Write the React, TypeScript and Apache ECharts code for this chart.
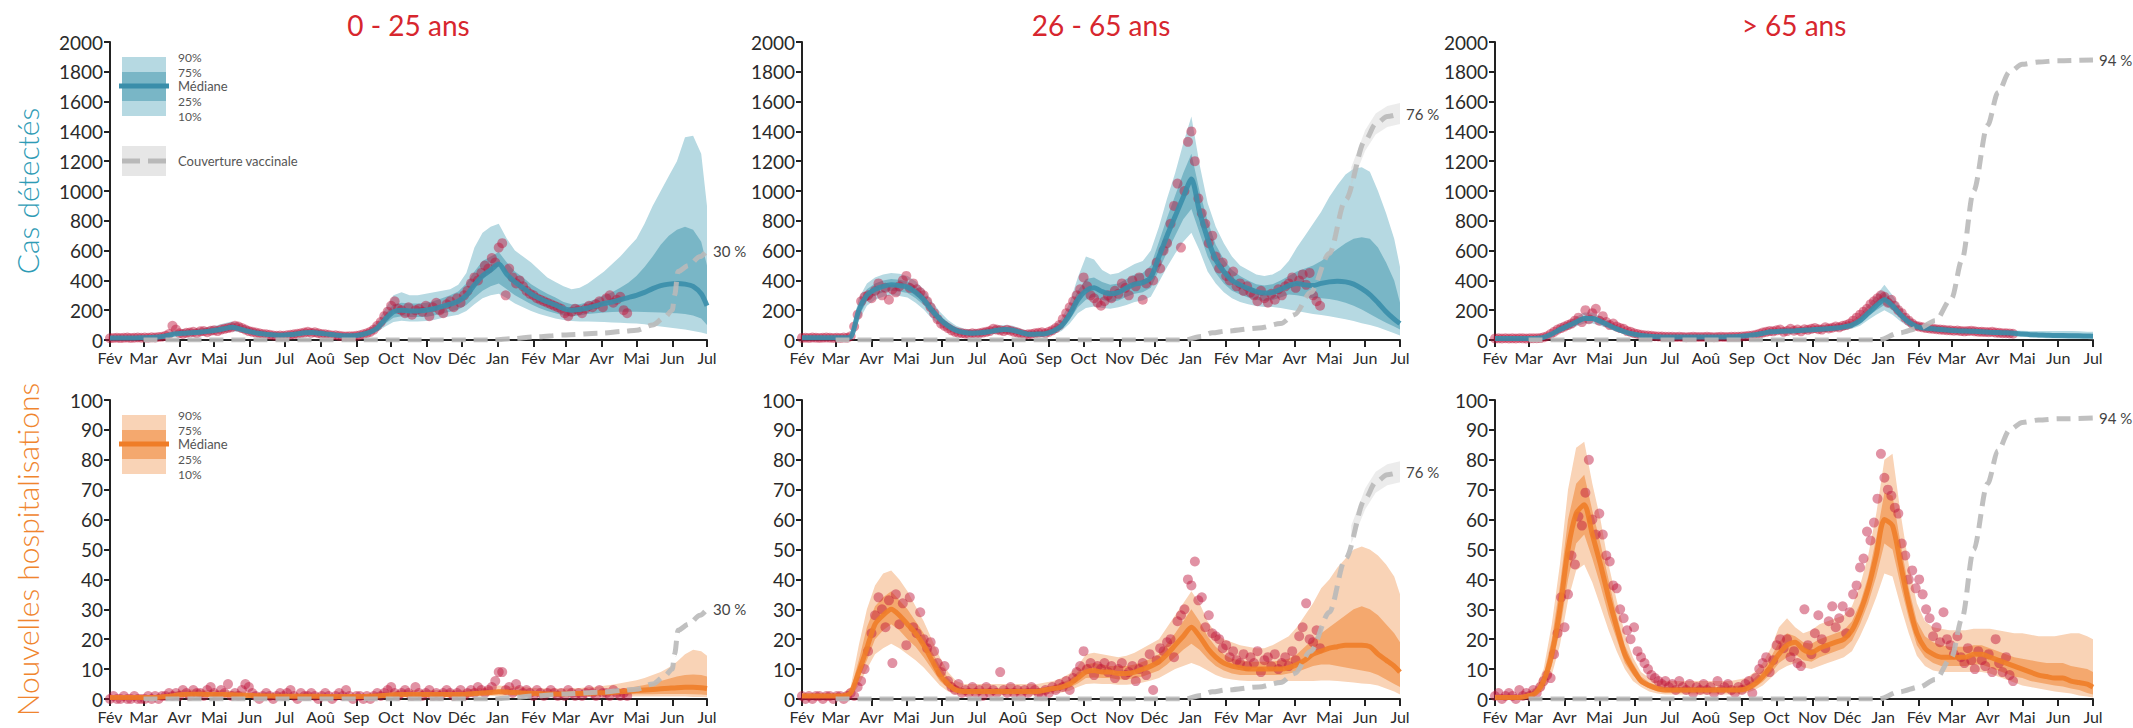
import { useEffect, useRef } from 'react';
import * as echarts from 'echarts';

// ---------- axes & labels ----------
const MONTH_LABELS = ['Jan', 'Fév', 'Mar', 'Avr', 'Mai', 'Jun', 'Jul', 'Aoû', 'Sep', 'Oct', 'Nov', 'Déc'];
const AGE_GROUPS = ['0 - 25 ans', '26 - 65 ans', '> 65 ans'];
const ROW_TITLES = ['Cas détectés', 'Nouvelles hospitalisations'];
const CASES_TICKS = { max: 2000, interval: 200 };
const HOSP_TICKS = { max: 100, interval: 10 };

const END = new Date(2021, 6, 1).getTime();
const MONTH_TICKS = Array.from({ length: 18 }, (_, m) => new Date(2020, 1 + m, 1).getTime());
// model quantiles: weekly from 1 Feb 2020, closing on 1 Jul 2021
const MODEL_DATES = [...Array.from({ length: 74 }, (_, k) => new Date(2020, 1, 1 + 7 * k).getTime()), END];
// observed daily counts, one every third day from 1 Feb 2020
const OBS_DATES = Array.from({ length: 150 }, (_, i) => new Date(2020, 1, 1 + 3 * i).getTime());
const toTime = (s: string) => {
  const [y, m, d] = s.split('-').map(Number);
  return new Date(y, m - 1, d).getTime();
};

// ---------- 0 - 25 ans : cas détectés ----------
const YOUNG_CASES_MED = [
  14, 14, 14, 14, 15, 16, 20, 28, 40, 45,
  48, 52, 58, 65, 75, 85, 75, 60, 48, 40,
  35, 32, 35, 40, 48, 50, 45, 38, 32, 28,
  28, 35, 50, 80, 140, 190, 200, 195, 195, 200,
  210, 225, 240, 260, 300, 370, 430, 470, 510, 440,
  390, 350, 310, 280, 255, 235, 210, 200, 205, 215,
  230, 245, 255, 270, 285, 300, 320, 345, 365, 375,
  380, 375, 360, 310, 230,
];
const YOUNG_CASES_P75 = [
  16, 16, 16, 16, 17, 18, 23, 40, 55, 58,
  60, 65, 72, 80, 92, 105, 92, 75, 60, 50,
  44, 40, 44, 50, 58, 62, 56, 48, 40, 35,
  35, 44, 62, 100, 175, 240, 250, 245, 245, 250,
  262, 280, 300, 325, 380, 460, 530, 560, 590, 520,
  460, 420, 375, 340, 310, 285, 255, 240, 240, 255,
  275, 300, 320, 350, 385, 430, 490, 560, 640, 700,
  740, 760, 740, 660, 500,
];
const YOUNG_CASES_P25 = [
  12, 12, 12, 12, 13, 14, 15, 24, 34, 38,
  40, 43, 48, 54, 62, 70, 62, 50, 40, 33,
  29, 26, 29, 33, 40, 42, 37, 31, 26, 23,
  23, 28, 40, 65, 110, 150, 160, 155, 155, 155,
  165, 178, 190, 205, 235, 285, 330, 360, 380, 340,
  300, 270, 240, 215, 195, 180, 165, 160, 165, 175,
  180, 185, 188, 190, 190, 190, 188, 186, 185, 182,
  180, 175, 165, 145, 100,
];
const YOUNG_CASES_P90 = [
  18, 18, 18, 18, 19, 20, 28, 48, 65, 70,
  72, 78, 86, 95, 110, 125, 110, 90, 72, 60,
  52, 48, 52, 60, 70, 74, 66, 56, 48, 42,
  42, 52, 75, 120, 210, 300, 320, 300, 300, 310,
  320, 330, 340, 370, 450, 620, 720, 760, 780, 680,
  600, 560, 520, 470, 420, 390, 360, 340, 350, 380,
  420, 460, 510, 560, 620, 680, 780, 900, 1000, 1100,
  1200, 1360, 1370, 1250, 900,
];
const YOUNG_CASES_P10 = [
  10, 10, 10, 10, 11, 12, 12, 20, 28, 30,
  32, 35, 40, 45, 52, 58, 52, 42, 33, 28,
  24, 22, 24, 28, 33, 35, 31, 26, 22, 19,
  19, 23, 33, 55, 90, 120, 130, 125, 125, 128,
  135, 148, 160, 170, 195, 240, 280, 300, 310, 280,
  245, 220, 195, 175, 160, 145, 135, 128, 125, 125,
  122, 120, 118, 115, 112, 110, 105, 98, 90, 84,
  78, 70, 60, 50, 40,
];
const YOUNG_CASES_OBS = [
  12, 14, 15, 13, 15, 16, 14, 15, 17, 15,
  16, 15, 18, 17, 20, 22, 28, 40, 95, 70,
  45, 40, 48, 50, 55, 45, 58, 60, 52, 62,
  65, 60, 70, 75, 80, 85, 95, 90, 80, 70,
  60, 55, 50, 45, 40, 38, 35, 30, 28, 30,
  28, 32, 35, 38, 42, 45, 50, 55, 48, 52,
  45, 40, 38, 35, 30, 32, 28, 25, 24, 26,
  25, 28, 32, 38, 45, 55, 70, 95, 120, 160,
  190, 230, 260, 210, 200, 180, 220, 170, 200, 210,
  190, 230, 160, 220, 250, 200, 180, 240, 260, 220,
  280, 250, 300, 330, 380, 420, 400, 450, 500, 480,
  550, 520, 620, 650, 300, 480, 420, 380, 400, 360,
  330, 310, 300, 280, 270, 260, 250, 240, 230, 220,
  210, 180, 160, 190, 210, 200, 180, 210, 230, 220,
  240, 260, 220, 280, 300, 250, 270, 290, 200, 180,
];

// ---------- 26 - 65 ans : cas détectés ----------
const ADULT_CASES_MED = [
  15, 15, 15, 15, 15, 15, 20, 200, 300, 340,
  360, 370, 365, 355, 320, 270, 200, 140, 95, 65,
  50, 45, 48, 55, 65, 70, 65, 50, 38, 40,
  42, 60, 95, 170, 270, 330, 350, 325, 310, 320,
  350, 375, 385, 420, 560, 700, 830, 960, 1080, 860,
  680, 540, 460, 400, 370, 345, 325, 315, 320, 340,
  365, 380, 370, 365, 380, 390, 395, 390, 375, 345,
  305, 250, 190, 140, 110,
];
const ADULT_CASES_P75 = [
  17, 17, 17, 17, 17, 17, 25, 240, 340, 380,
  400, 410, 405, 395, 360, 305, 230, 165, 115, 80,
  62, 56, 60, 68, 80, 85, 80, 62, 48, 50,
  52, 75, 120, 210, 330, 410, 420, 390, 370, 380,
  410, 440, 450, 500, 660, 820, 970, 1120, 1250, 1000,
  800, 640, 540, 470, 430, 400, 375, 365, 375, 400,
  430, 460, 480, 500, 530, 570, 610, 650, 680, 690,
  680, 620, 520, 400, 250,
];
const ADULT_CASES_P25 = [
  13, 13, 13, 13, 13, 13, 15, 160, 260, 300,
  320, 330, 325, 315, 280, 235, 170, 115, 78, 52,
  40, 36, 38, 44, 52, 56, 52, 40, 30, 32,
  34, 48, 75, 135, 220, 270, 290, 270, 255, 265,
  290, 310, 320, 350, 470, 590, 700, 810, 880, 720,
  560, 450, 380, 330, 305, 285, 270, 262, 268, 285,
  305, 300, 290, 280, 280, 275, 265, 250, 230, 205,
  175, 145, 115, 90, 70,
];
const ADULT_CASES_P90 = [
  20, 20, 20, 20, 20, 20, 35, 280, 380, 420,
  440, 450, 445, 430, 395, 340, 260, 190, 135, 95,
  75, 68, 72, 82, 95, 100, 95, 75, 58, 60,
  62, 90, 145, 250, 420, 560, 540, 470, 440, 450,
  480, 510, 530, 600, 760, 950, 1120, 1320, 1500, 1180,
  920, 760, 650, 560, 500, 470, 440, 430, 440, 470,
  530, 620, 700, 780, 860, 960, 1040, 1110, 1150, 1160,
  1130, 1000, 850, 680, 490,
];
const ADULT_CASES_P10 = [
  10, 10, 10, 10, 10, 10, 12, 130, 230, 270,
  290, 300, 295, 285, 250, 205, 145, 95, 62, 40,
  32, 28, 30, 35, 42, 45, 42, 32, 24, 26,
  27, 38, 60, 110, 180, 215, 225, 215, 210, 220,
  235, 255, 265, 290, 390, 490, 580, 660, 720, 600,
  460, 380, 320, 280, 255, 240, 228, 222, 222, 215,
  205, 195, 185, 175, 168, 160, 150, 140, 128, 112,
  100, 85, 65, 45, 30,
];
const ADULT_CASES_OBS = [
  14, 15, 14, 16, 15, 14, 15, 16, 15, 14,
  15, 14, 16, 15, 25, 90, 170, 260, 290, 300,
  280, 330, 380, 300, 350, 270, 340, 320, 360, 400,
  430, 350, 380, 340, 320, 300, 260, 220, 180, 140,
  110, 95, 80, 65, 55, 48, 45, 42, 40, 45,
  42, 45, 50, 55, 60, 75, 70, 65, 60, 68,
  62, 55, 50, 42, 35, 38, 40, 45, 48, 52,
  45, 55, 65, 80, 100, 140, 180, 220, 260, 300,
  340, 420, 360, 300, 280, 250, 230, 260, 300, 280,
  330, 310, 380, 350, 300, 400, 360, 420, 270, 380,
  450, 400, 520, 480, 600, 650, 780, 900, 1050, 620,
  1000, 1330, 1400, 1200, 950, 850, 780, 650, 700, 560,
  480, 520, 430, 400, 460, 360, 380, 330, 360, 320,
  300, 260, 330, 280, 250, 310, 270, 340, 300, 360,
  380, 420, 350, 400, 440, 370, 450, 300, 260, 230,
];

// ---------- > 65 ans : cas détectés ----------
const SENIOR_CASES_MED = [
  10, 10, 10, 10, 10, 12, 18, 40, 70, 95,
  120, 145, 145, 125, 100, 75, 55, 40, 30, 25,
  22, 20, 20, 20, 20, 20, 20, 20, 20, 22,
  24, 28, 35, 45, 55, 58, 60, 62, 65, 68,
  72, 76, 80, 88, 100, 130, 180, 230, 270, 230,
  170, 120, 90, 80, 75, 70, 65, 62, 60, 58,
  55, 52, 50, 48, 45, 40, 36, 34, 32, 30,
  30, 29, 28, 27, 26,
];
const SENIOR_CASES_P75 = [
  12, 12, 12, 12, 12, 14, 22, 47, 82, 110,
  137, 165, 165, 142, 115, 86, 63, 46, 35, 29,
  25, 23, 23, 23, 23, 23, 23, 23, 23, 25,
  28, 32, 40, 52, 63, 67, 70, 72, 75, 78,
  83, 88, 92, 100, 115, 150, 205, 265, 320, 265,
  195, 138, 104, 92, 86, 81, 75, 72, 70, 68,
  64, 61, 59, 57, 55, 52, 48, 46, 45, 44,
  44, 43, 42, 41, 40,
];
const SENIOR_CASES_P25 = [
  8, 8, 8, 8, 8, 10, 15, 34, 60, 82,
  105, 127, 127, 110, 87, 65, 47, 35, 25, 21,
  19, 17, 17, 17, 17, 17, 17, 17, 17, 19,
  20, 24, 30, 39, 47, 50, 52, 54, 56, 58,
  62, 65, 69, 76, 87, 112, 157, 200, 235, 200,
  148, 104, 78, 69, 65, 60, 56, 54, 52, 50,
  47, 44, 42, 39, 36, 31, 27, 24, 21, 19,
  18, 17, 16, 15, 14,
];
const SENIOR_CASES_P90 = [
  14, 14, 14, 14, 14, 16, 26, 55, 95, 125,
  155, 185, 185, 160, 130, 98, 72, 52, 40, 33,
  29, 27, 27, 27, 27, 27, 27, 27, 27, 29,
  32, 37, 46, 60, 72, 78, 80, 82, 86, 90,
  95, 100, 105, 115, 130, 170, 235, 300, 370, 300,
  220, 158, 118, 104, 98, 92, 86, 82, 80, 78,
  74, 70, 68, 66, 64, 62, 60, 60, 60, 60,
  60, 60, 58, 56, 55,
];
const SENIOR_CASES_P10 = [
  7, 7, 7, 7, 7, 9, 12, 28, 50, 70,
  90, 110, 110, 95, 75, 55, 40, 30, 22, 18,
  16, 15, 15, 15, 15, 15, 15, 15, 15, 16,
  17, 20, 26, 33, 40, 43, 45, 46, 48, 50,
  53, 56, 60, 65, 75, 95, 135, 170, 200, 170,
  125, 88, 66, 58, 55, 51, 47, 45, 43, 41,
  38, 35, 32, 29, 26, 22, 18, 15, 12, 10,
  9, 8, 7, 6, 5,
];
const SENIOR_CASES_OBS = [
  10, 11, 10, 12, 10, 11, 10, 12, 11, 10,
  11, 12, 12, 13, 18, 25, 40, 55, 70, 80,
  90, 100, 110, 130, 150, 120, 200, 140, 180, 210,
  130, 160, 120, 100, 110, 90, 80, 75, 60, 55,
  45, 40, 35, 32, 30, 28, 25, 24, 23, 22,
  22, 21, 20, 21, 20, 19, 20, 21, 20, 20,
  20, 21, 20, 19, 20, 21, 20, 20, 22, 21,
  22, 24, 25, 28, 30, 35, 42, 50, 55, 60,
  58, 65, 70, 55, 60, 75, 62, 70, 58, 72,
  68, 75, 80, 72, 70, 85, 78, 82, 90, 85,
  95, 100, 110, 130, 150, 170, 190, 210, 240, 260,
  280, 300, 290, 250, 270, 230, 200, 180, 150, 130,
  110, 95, 90, 85, 80, 78, 75, 72, 70, 68,
  66, 65, 62, 64, 60, 58, 60, 62, 58, 56,
  55, 54, 52, 55, 50, 48, 46, 45, 44, 42,
];

// ---------- 0 - 25 ans : nouvelles hospitalisations ----------
const YOUNG_HOSP_MED = [
  0.5, 0.5, 0.5, 0.5, 0.5, 0.5, 0.6, 0.8, 1.2, 1.5,
  1.6, 1.6, 1.5, 1.5, 1.5, 1.4, 1.3, 1.2, 1.1, 1,
  1, 0.9, 0.9, 0.9, 0.9, 0.9, 0.9, 0.8, 0.8, 0.8,
  0.8, 0.8, 0.9, 1, 1.2, 1.4, 1.5, 1.5, 1.5, 1.5,
  1.5, 1.5, 1.5, 1.5, 1.6, 1.8, 2, 2.2, 2.4, 2.3,
  2.2, 2, 1.9, 1.8, 1.7, 1.7, 1.7, 1.8, 1.8, 1.9,
  2, 2.1, 2.2, 2.4, 2.6, 2.8, 3, 3.2, 3.4, 3.6,
  3.8, 3.9, 3.9, 3.8, 3.5,
];
const YOUNG_HOSP_P75 = [
  0.7, 0.7, 0.7, 0.7, 0.7, 0.7, 0.8, 1.2, 1.7, 2,
  2.2, 2.2, 2.1, 2.1, 2, 1.9, 1.8, 1.6, 1.5, 1.4,
  1.4, 1.2, 1.2, 1.2, 1.2, 1.2, 1.2, 1.1, 1.1, 1.1,
  1.1, 1.1, 1.2, 1.4, 1.7, 2, 2.1, 2.1, 2.1, 2.1,
  2.1, 2.1, 2.1, 2.1, 2.3, 2.5, 2.8, 3, 3.2, 3.1,
  3, 2.8, 2.6, 2.5, 2.4, 2.4, 2.4, 2.5, 2.6, 2.7,
  2.8, 3, 3.2, 3.5, 3.8, 4.2, 4.7, 5.3, 6, 6.8,
  7.5, 8, 8.2, 8, 7.5,
];
const YOUNG_HOSP_P25 = [
  0.3, 0.3, 0.3, 0.3, 0.3, 0.3, 0.4, 0.5, 0.8, 1,
  1.1, 1.1, 1, 1, 1, 0.9, 0.9, 0.8, 0.7, 0.7,
  0.7, 0.6, 0.6, 0.6, 0.6, 0.6, 0.6, 0.5, 0.5, 0.5,
  0.5, 0.5, 0.6, 0.7, 0.8, 0.9, 1, 1, 1, 1,
  1, 1, 1, 1, 1.1, 1.2, 1.4, 1.5, 1.6, 1.5,
  1.5, 1.4, 1.3, 1.2, 1.2, 1.2, 1.2, 1.2, 1.2, 1.3,
  1.3, 1.4, 1.4, 1.5, 1.5, 1.6, 1.6, 1.6, 1.7, 1.7,
  1.7, 1.7, 1.6, 1.5, 1.3,
];
const YOUNG_HOSP_P90 = [
  1, 1, 1, 1, 1, 1, 1.2, 1.8, 2.5, 3,
  3.2, 3.2, 3, 3, 3, 2.8, 2.6, 2.4, 2.2, 2,
  2, 1.8, 1.8, 1.8, 1.8, 1.8, 1.8, 1.6, 1.6, 1.6,
  1.6, 1.6, 1.8, 2, 2.4, 2.8, 3, 3, 3, 3,
  3, 3, 3, 3, 3.2, 3.5, 3.8, 4.2, 4.5, 4.3,
  4.2, 4, 3.8, 3.6, 3.5, 3.5, 3.5, 3.6, 3.7, 3.9,
  4.1, 4.4, 4.8, 5.3, 5.8, 6.3, 7, 8, 9, 10.5,
  12.5, 15, 16.5, 16, 14.5,
];
const YOUNG_HOSP_P10 = [
  0.1, 0.1, 0.1, 0.1, 0.1, 0.1, 0.2, 0.3, 0.5, 0.6,
  0.7, 0.7, 0.6, 0.6, 0.6, 0.6, 0.5, 0.5, 0.4, 0.4,
  0.4, 0.4, 0.4, 0.4, 0.4, 0.4, 0.4, 0.3, 0.3, 0.3,
  0.3, 0.3, 0.4, 0.4, 0.5, 0.6, 0.6, 0.6, 0.6, 0.6,
  0.6, 0.6, 0.6, 0.6, 0.7, 0.8, 0.9, 1, 1, 1,
  1, 0.9, 0.8, 0.8, 0.8, 0.8, 0.8, 0.8, 0.8, 0.8,
  0.8, 0.8, 0.8, 0.8, 0.8, 0.8, 0.8, 0.8, 0.8, 0.8,
  0.8, 0.8, 0.7, 0.7, 0.6,
];
const YOUNG_HOSP_OBS = [
  0, 1, 0, 0, 1, 0, 0, 1, 0, 0,
  0, 1, 0, 1, 0, 1, 1, 2, 1, 2,
  1, 3, 2, 1, 3, 2, 2, 1, 3, 4,
  2, 1, 3, 2, 5, 1, 2, 1, 3, 5,
  4, 2, 1, 0, 1, 2, 1, 0, 1, 2,
  1, 2, 3, 1, 0, 2, 1, 1, 2, 1,
  0, 1, 2, 1, 0, 1, 2, 1, 3, 1,
  0, 1, 1, 0, 1, 0, 1, 2, 1, 2,
  3, 4, 2, 1, 2, 3, 2, 1, 4, 2,
  1, 2, 3, 1, 2, 1, 2, 3, 2, 1,
  2, 3, 1, 2, 3, 2, 4, 3, 2, 3,
  4, 6, 9, 9, 3, 4, 2, 5, 3, 2,
  3, 2, 1, 3, 2, 1, 2, 3, 2, 1,
  2, 1, 3, 2, 1, 2, 1, 2, 3, 2,
  1, 3, 2, 2, 1, 3, 2, 1, 2, 1,
];

// ---------- 26 - 65 ans : nouvelles hospitalisations ----------
const ADULT_HOSP_MED = [
  1, 1, 1, 1, 1, 1, 2, 9, 17, 25,
  28, 30, 28, 25, 22, 18, 13, 8, 5, 3,
  2.5, 2.5, 2.5, 2.5, 2.5, 2.5, 2.5, 2.5, 2.5, 2.5,
  3, 3.5, 4, 5, 7, 9, 9.5, 9, 9, 8.5,
  8.5, 9, 10, 11, 12.5, 15, 18, 21, 24, 21,
  17, 14, 12, 11, 10.5, 10, 10, 10, 10, 10,
  10.5, 11.5, 13, 15, 16, 17, 17.5, 18, 18, 18,
  17.5, 15, 13, 11, 9,
];
const ADULT_HOSP_P75 = [
  1.5, 1.5, 1.5, 1.5, 1.5, 1.5, 3, 13, 24, 31,
  34, 36, 33, 30, 26, 22, 16, 11, 7, 4.5,
  3.5, 3.5, 3.5, 3.5, 3.5, 3.5, 3.5, 3.5, 3.5, 3.5,
  4, 4.5, 5.5, 6.5, 9, 11.5, 12, 11.5, 11, 11,
  11, 11.5, 12.5, 13.5, 15, 18.5, 22, 26, 30, 26,
  21, 17.5, 15, 13.5, 13, 12.5, 12.5, 12.5, 12.5, 13,
  13.5, 15, 17.5, 20, 22, 24, 26, 28, 30, 31,
  30, 28, 25, 22, 19,
];
const ADULT_HOSP_P25 = [
  0.6, 0.6, 0.6, 0.6, 0.6, 0.6, 1.2, 6.5, 13, 20,
  23, 25, 23, 20, 17.5, 14, 10, 6, 3.5, 2.2,
  1.8, 1.8, 1.8, 1.8, 1.8, 1.8, 1.8, 1.8, 1.8, 1.8,
  2.2, 2.6, 3, 3.8, 5.2, 7, 7.2, 7, 7, 6.5,
  6.5, 7, 7.5, 8.5, 9.5, 11.5, 14, 16.5, 18.5, 16.5,
  13.5, 11, 9.5, 8.5, 8, 8, 8, 8, 8, 8,
  8.5, 9, 10, 11, 11.5, 11.5, 11, 10.5, 10, 9.5,
  9, 8, 6.5, 5, 4,
];
const ADULT_HOSP_P90 = [
  2, 2, 2, 2, 2, 2, 4, 18, 30, 38,
  42, 43, 40, 36, 31, 26, 20, 14, 9, 6,
  5, 5, 5, 5, 5, 5, 5, 5, 5, 5,
  5.5, 6, 7, 8.5, 11, 15, 15.5, 15, 14.5, 14,
  14.5, 15.5, 17, 18.5, 20, 24, 28, 32, 36, 32,
  26, 22, 20, 19, 18, 17.5, 17, 17, 18, 19.5,
  21, 24, 28, 32, 37, 40, 44, 47, 50, 51,
  50, 48, 45, 41, 35,
];
const ADULT_HOSP_P10 = [
  0.3, 0.3, 0.3, 0.3, 0.3, 0.3, 0.7, 4.5, 10, 15,
  17, 18.5, 17, 15, 13, 10.5, 7.5, 4.5, 2.5, 1.5,
  1.2, 1.2, 1.2, 1.2, 1.2, 1.2, 1.2, 1.2, 1.2, 1.2,
  1.5, 1.8, 2.2, 2.8, 4, 5, 5.2, 5, 5, 4.8,
  4.8, 5, 5.5, 6.2, 7, 8.5, 10, 11, 12, 11,
  9.5, 8, 7, 6.5, 6.2, 6, 6, 6, 6, 6,
  6, 6, 6, 6, 6.2, 6.2, 6, 5.8, 5.5, 5.2,
  5, 4.5, 3.5, 2.5, 1.5,
];
const ADULT_HOSP_OBS = [
  1, 0, 1, 0, 1, 1, 0, 1, 1, 0,
  1, 1, 0, 1, 2, 1, 4, 6, 10, 16,
  22, 28, 34, 30, 24, 33, 12, 35, 25, 32,
  18, 34, 24, 22, 29, 20, 17, 19, 16, 12,
  9, 11, 6, 4, 3, 5, 2, 3, 2, 4,
  2, 3, 1, 4, 2, 3, 2, 9, 3, 2,
  4, 2, 3, 1, 3, 2, 4, 3, 2, 1,
  3, 2, 4, 3, 5, 4, 6, 3, 7, 9,
  11, 16, 10, 12, 8, 11, 10, 12, 9, 11,
  7, 10, 12, 8, 9, 11, 6, 10, 12, 8,
  15, 3, 13, 17, 16, 19, 20, 14, 26, 28,
  30, 40, 38, 46, 33, 34, 24, 28, 22, 21,
  20, 17, 18, 14, 16, 13, 12, 15, 11, 14,
  12, 16, 9, 13, 14, 11, 15, 10, 12, 14,
  11, 16, 13, 21, 24, 32, 20, 19, 23, 17,
];

// ---------- > 65 ans : nouvelles hospitalisations ----------
const SENIOR_HOSP_MED = [
  0.5, 0.5, 0.5, 0.5, 1, 2, 6, 15, 30, 50,
  62, 65, 55, 45, 34, 24, 15, 10, 6, 4.5,
  3.5, 3, 3, 3, 3, 3, 3, 3, 3, 3,
  3, 3.5, 5, 7.5, 11, 15, 18, 19, 16.5, 15.5,
  17, 18, 19, 20, 23, 29, 37, 48, 60, 58,
  45, 32, 22, 17, 15, 14, 14, 14, 14, 15,
  15, 14, 13, 12, 11, 10, 9, 8, 7.5, 7,
  7, 6, 5.5, 5, 4,
];
const SENIOR_HOSP_P75 = [
  0.8, 0.8, 0.8, 0.8, 1.5, 3, 8, 20, 38, 60,
  72, 75, 63, 52, 40, 28, 18, 12, 7.5, 5.5,
  4.5, 4, 4, 4, 4, 4, 4, 4, 4, 4,
  4.5, 5, 7, 9.5, 14, 19, 22, 21, 19, 18.5,
  20, 21, 22, 23, 26, 32, 41, 54, 69, 68,
  52, 37, 26, 21, 19, 18, 17.5, 17.5, 17.5, 18,
  18, 17, 16, 15, 14, 13.5, 13, 12.5, 12, 12,
  12, 11, 10.5, 10, 9,
];
const SENIOR_HOSP_P25 = [
  0.3, 0.3, 0.3, 0.3, 0.6, 1.3, 4, 11, 23, 40,
  52, 55, 47, 38, 28, 20, 12, 8, 5, 3.5,
  2.5, 2.2, 2.2, 2.2, 2.2, 2.2, 2.2, 2.2, 2.2, 2.2,
  2.2, 2.6, 3.8, 5.8, 8.5, 12, 14, 15, 13, 12.5,
  14, 15, 16, 17, 19.5, 25, 32, 41, 52, 50,
  38, 27, 18, 14, 12, 11, 11, 11, 11, 11.5,
  11.5, 10.5, 9.5, 8.5, 7.5, 7, 6, 5.5, 5, 4.5,
  4.2, 3.5, 3, 2, 1.5,
];
const SENIOR_HOSP_P90 = [
  1.5, 1.5, 1.5, 1.5, 2.5, 4, 10, 25, 45, 70,
  84, 86, 72, 60, 45, 33, 22, 14, 9, 7,
  6, 6, 6, 6, 6, 6, 6, 6, 6, 6,
  6.5, 7, 9, 12, 17, 24, 27, 24, 22, 23,
  25, 26, 27, 28, 31, 38, 48, 62, 80, 82,
  62, 45, 32, 26, 24, 23.5, 23, 23, 23, 23.5,
  23.5, 23.5, 23, 22.5, 22, 22, 21.5, 21, 21, 21,
  21.5, 22, 22, 21, 20,
];
const SENIOR_HOSP_P10 = [
  0.1, 0.1, 0.1, 0.1, 0.3, 0.8, 3, 8, 18, 33,
  43, 45, 39, 31, 23, 16, 10, 6, 4, 2.5,
  1.8, 1.5, 1.5, 1.5, 1.5, 1.5, 1.5, 1.5, 1.5, 1.5,
  1.5, 2, 3, 4.5, 7, 9.5, 11, 12, 10.5, 10,
  11, 12, 13, 14, 16, 21, 27, 34, 42, 41,
  31, 22, 14.5, 11, 9.5, 9, 9, 9, 9, 9,
  9, 8.5, 7.5, 6.5, 5.5, 4.5, 4, 3.5, 3, 2.5,
  2.2, 1.8, 1.2, 0.8, 0.5,
];
const SENIOR_HOSP_OBS = [
  1, 2, 0, 1, 2, 1, 0, 3, 1, 2,
  1, 3, 2, 4, 6, 8, 7, 15, 22, 34,
  24, 35, 48, 45, 61, 58, 69, 80, 60, 55,
  62, 55, 48, 46, 38, 37, 30, 27, 23, 20,
  24, 16, 14, 12, 10, 8, 7, 6, 5, 6,
  4, 5, 3, 6, 4, 3, 5, 2, 4, 3,
  5, 3, 4, 2, 6, 3, 4, 5, 3, 2,
  4, 3, 5, 6, 2, 7, 10, 12, 14, 9,
  13, 18, 20, 17, 20, 14, 16, 12, 11, 30,
  18, 15, 22, 28, 20, 17, 26, 31, 24, 27,
  31, 22, 29, 35, 38, 44, 47, 56, 53, 59,
  67, 82, 74, 70, 68, 64, 62, 52, 48, 40,
  43, 37, 40, 35, 30, 27, 21, 24, 19, 29,
  20, 18, 15, 21, 14, 12, 17, 13, 10, 16,
  13, 11, 15, 9, 20, 12, 9, 14, 8, 6,
];

// ---------- couverture vaccinale (%) ----------
const YOUNG_COVERAGE: [string, number][] = [
  ['2020-03-01', 0], ['2020-12-28', 0], ['2021-01-15', 0.5], ['2021-02-01', 1],
  ['2021-03-01', 1.7], ['2021-04-01', 2.3], ['2021-04-20', 2.9], ['2021-05-01', 3.3],
  ['2021-05-15', 5], ['2021-05-25', 7.5], ['2021-06-01', 10], ['2021-06-03', 15],
  ['2021-06-06', 23], ['2021-06-15', 25], ['2021-06-25', 28], ['2021-07-01', 30],
];
const ADULT_COVERAGE: [string, number][] = [
  ['2020-03-01', 0], ['2020-12-28', 0], ['2021-01-10', 1.2], ['2021-01-20', 2.4],
  ['2021-02-01', 3], ['2021-03-01', 4], ['2021-03-20', 5.5], ['2021-04-01', 8.5],
  ['2021-04-15', 16], ['2021-05-01', 29], ['2021-05-15', 47], ['2021-06-01', 67],
  ['2021-06-10', 72.5], ['2021-06-20', 75], ['2021-07-01', 76],
];
const SENIOR_COVERAGE: [string, number][] = [
  ['2020-03-01', 0], ['2020-12-28', 0], ['2021-01-15', 2.4], ['2021-02-01', 4],
  ['2021-02-15', 6.5], ['2021-03-01', 14], ['2021-03-10', 27], ['2021-03-20', 50],
  ['2021-04-01', 72], ['2021-04-10', 83], ['2021-04-20', 90], ['2021-05-01', 92.5],
  ['2021-05-15', 93.3], ['2021-06-01', 93.7], ['2021-07-01', 94],
];
// uncertainty around the 26 - 65 ans coverage projection
const ADULT_COVERAGE_RANGE_DATES = ['2021-05-20', '2021-06-01', '2021-06-10', '2021-06-20', '2021-07-01'];
const ADULT_COVERAGE_LOW = [52, 63.5, 69, 71.5, 72.5];
const ADULT_COVERAGE_HIGH = [58, 70.5, 76, 78.5, 79.5];

// ---------- styling ----------
const FONT = 'Lato, "Open Sans", sans-serif';
const CASES_STYLE = { outer: '#B6D9E2', inner: '#79B6C6', median: '#3A8EAA', title: '#2E9BB5' };
const HOSP_STYLE = { outer: '#F9D3B6', inner: '#F4A86E', median: '#EF7D28', title: '#F0852E' };
const OBS_COLOR = 'rgba(190, 20, 58, 0.58)';
const COVERAGE_COLOR = '#B9B9B9';
const GRID_LEFT = [110, 802, 1495];
const GRID_WIDTH = [597, 598, 598];
const GRID_TOP = [42, 400];
const GRID_HEIGHT = [298, 299];

const PANELS = [
  { row: 0, col: 0, med: YOUNG_CASES_MED, p10: YOUNG_CASES_P10, p25: YOUNG_CASES_P25, p75: YOUNG_CASES_P75, p90: YOUNG_CASES_P90, obs: YOUNG_CASES_OBS, cov: YOUNG_COVERAGE },
  { row: 0, col: 1, med: ADULT_CASES_MED, p10: ADULT_CASES_P10, p25: ADULT_CASES_P25, p75: ADULT_CASES_P75, p90: ADULT_CASES_P90, obs: ADULT_CASES_OBS, cov: ADULT_COVERAGE },
  { row: 0, col: 2, med: SENIOR_CASES_MED, p10: SENIOR_CASES_P10, p25: SENIOR_CASES_P25, p75: SENIOR_CASES_P75, p90: SENIOR_CASES_P90, obs: SENIOR_CASES_OBS, cov: SENIOR_COVERAGE },
  { row: 1, col: 0, med: YOUNG_HOSP_MED, p10: YOUNG_HOSP_P10, p25: YOUNG_HOSP_P25, p75: YOUNG_HOSP_P75, p90: YOUNG_HOSP_P90, obs: YOUNG_HOSP_OBS, cov: YOUNG_COVERAGE },
  { row: 1, col: 1, med: ADULT_HOSP_MED, p10: ADULT_HOSP_P10, p25: ADULT_HOSP_P25, p75: ADULT_HOSP_P75, p90: ADULT_HOSP_P90, obs: ADULT_HOSP_OBS, cov: ADULT_COVERAGE },
  { row: 1, col: 2, med: SENIOR_HOSP_MED, p10: SENIOR_HOSP_P10, p25: SENIOR_HOSP_P25, p75: SENIOR_HOSP_P75, p90: SENIOR_HOSP_P90, obs: SENIOR_HOSP_OBS, cov: SENIOR_COVERAGE },
];

// A filled band between two curves, drawn as one polygon through the axis scales.
function bandSeries(xIdx: number, yIdx: number, dates: number[], lo: number[], hi: number[], color: string, z: number) {
  return {
    type: 'custom', xAxisIndex: xIdx, yAxisIndex: yIdx, silent: true, z,
    data: dates.map((d, i) => [d, lo[i], hi[i]]),
    encode: { x: 0, y: [1, 2] },
    renderItem: (params: any, api: any) => {
      if (params.dataIndex !== 0) return null;
      const upper = dates.map((d, i) => api.coord([d, hi[i]]));
      const lower = dates.map((d, i) => api.coord([d, lo[i]])).reverse();
      return { type: 'polygon', shape: { points: [...upper, ...lower] }, style: { fill: color } };
    },
  };
}

function buildOption() {
  const grid = PANELS.map((p) => ({
    left: GRID_LEFT[p.col], width: GRID_WIDTH[p.col], top: GRID_TOP[p.row], height: GRID_HEIGHT[p.row],
  }));

  // dates are plotted as millisecond timestamps on a value axis, ticked at each month start
  const xAxis = PANELS.map((p, g) => ({
    type: 'value', gridIndex: g, min: MONTH_TICKS[0], max: END, scale: true,
    axisLine: { show: true, onZero: false, lineStyle: { color: '#222', width: 2 } },
    axisTick: { show: true, customValues: MONTH_TICKS, length: 7, lineStyle: { color: '#222', width: 2 } },
    axisLabel: {
      customValues: MONTH_TICKS, color: '#2a2a2a', fontSize: 16, fontFamily: FONT, margin: 9,
      hideOverlap: false, formatter: (v: number) => MONTH_LABELS[new Date(v).getMonth()],
    },
    splitLine: { show: false },
  }));

  const yAxis = PANELS.flatMap((p, g) => {
    const ticks = p.row === 0 ? CASES_TICKS : HOSP_TICKS;
    const style = p.row === 0 ? CASES_STYLE : HOSP_STYLE;
    return [
      {
        type: 'value', gridIndex: g, min: 0, max: ticks.max, interval: ticks.interval,
        axisLine: { show: true, lineStyle: { color: '#222', width: 2 } },
        axisTick: { show: true, length: 6, lineStyle: { color: '#222', width: 2 } },
        axisLabel: { color: '#2a2a2a', fontSize: 19, fontFamily: FONT, margin: 7, formatter: (v: number) => String(v) },
        splitLine: { show: false },
        name: p.col === 0 ? ROW_TITLES[p.row] : '',
        nameLocation: 'middle', nameRotate: 90, nameGap: 68,
        nameTextStyle: { color: style.title, fontSize: 30, fontFamily: FONT, fontWeight: 300 },
      },
      { type: 'value', gridIndex: g, min: 0, max: 100, show: false },
    ];
  });

  const series: any[] = [];
  PANELS.forEach((p, g) => {
    const style = p.row === 0 ? CASES_STYLE : HOSP_STYLE;
    series.push(bandSeries(g, 2 * g, MODEL_DATES, p.p10, p.p90, style.outer, 1));
    series.push(bandSeries(g, 2 * g, MODEL_DATES, p.p25, p.p75, style.inner, 1));
    series.push({
      type: 'scatter', xAxisIndex: g, yAxisIndex: 2 * g, symbolSize: 10, silent: true, z: 2,
      itemStyle: { color: OBS_COLOR },
      data: OBS_DATES.map((d, i) => [d, p.obs[i]]),
    });
    series.push({
      type: 'line', xAxisIndex: g, yAxisIndex: 2 * g, symbol: 'none', silent: true, smooth: 0.25, z: 3,
      lineStyle: { color: style.median, width: 5, opacity: 0.9 },
      data: MODEL_DATES.map((d, i) => [d, p.med[i]]),
    });
    if (p.cov === ADULT_COVERAGE) {
      series.push(bandSeries(g, 2 * g + 1, ADULT_COVERAGE_RANGE_DATES.map(toTime), ADULT_COVERAGE_LOW, ADULT_COVERAGE_HIGH, 'rgba(200,200,200,0.35)', 4));
    }
    series.push({
      type: 'line', xAxisIndex: g, yAxisIndex: 2 * g + 1, symbol: 'none', silent: true,
      smooth: 0.3, smoothMonotone: 'x', z: 4,
      lineStyle: { color: COVERAGE_COLOR, width: 5, type: [14, 8], opacity: 0.9 },
      data: p.cov.map(([d, v]) => [toTime(d), v]),
      endLabel: {
        show: true, distance: 6, color: '#444', fontSize: 15, fontFamily: FONT,
        formatter: (q: any) => `${q.value[1]} %`,
      },
    });
  });

  const legendText = (x: number, y: number, text: string, size = 12) => ({
    type: 'text', x, y,
    style: { text, fill: '#555', fontSize: size, fontFamily: FONT, verticalAlign: 'middle', align: 'left' },
  });
  const quantileLegend = (top: number, style: typeof CASES_STYLE) => [
    { type: 'rect', shape: { x: 122, y: top, width: 44, height: 59 }, style: { fill: style.outer } },
    { type: 'rect', shape: { x: 122, y: top + 15, width: 44, height: 29 }, style: { fill: style.inner } },
    { type: 'line', shape: { x1: 119, y1: top + 29, x2: 169, y2: top + 29 }, style: { stroke: style.median, lineWidth: 5 } },
    legendText(178, top, '90%'),
    legendText(178, top + 15, '75%'),
    legendText(178, top + 29, 'Médiane', 13),
    legendText(178, top + 44, '25%'),
    legendText(178, top + 59, '10%'),
  ];

  const graphic = [
    ...AGE_GROUPS.map((t, c) => ({
      type: 'text', x: GRID_LEFT[c] + GRID_WIDTH[c] / 2, y: 25,
      style: { text: t, fill: '#D7262E', fontSize: 28, fontFamily: FONT, align: 'center', verticalAlign: 'middle' },
    })),
    ...quantileLegend(57, CASES_STYLE),
    { type: 'rect', shape: { x: 122, y: 146, width: 44, height: 30 }, style: { fill: '#E6E6E6' } },
    { type: 'line', shape: { x1: 122, y1: 161, x2: 166, y2: 161 }, style: { stroke: COVERAGE_COLOR, lineWidth: 5, lineDash: [18, 8] } },
    legendText(178, 161, 'Couverture vaccinale', 13),
    ...quantileLegend(415, HOSP_STYLE),
  ];

  return { animation: false, backgroundColor: '#ffffff', grid, xAxis, yAxis, series, graphic };
}

export default function App() {
  const ref = useRef<HTMLDivElement>(null);
  useEffect(() => {
    document.body.style.margin = '0';
    if (!ref.current) return;
    const chart = echarts.init(ref.current, undefined, { renderer: 'svg' });
    chart.setOption(buildOption() as any);
    return () => chart.dispose();
  }, []);
  return <div ref={ref} style={{ width: 2133, height: 728 }} />;
}
